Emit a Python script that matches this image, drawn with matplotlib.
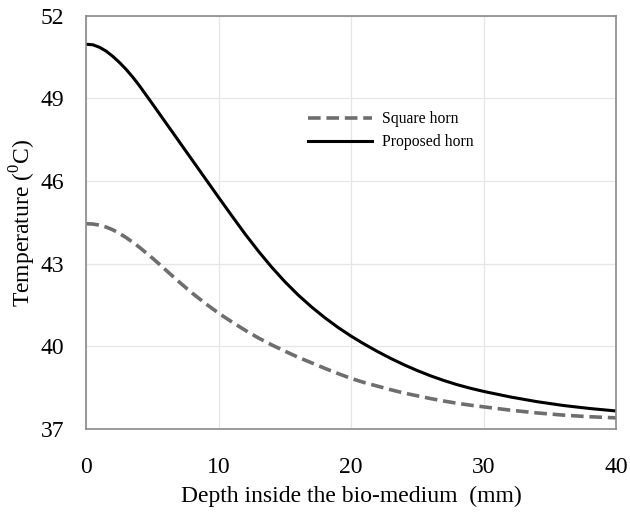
import numpy as np
import matplotlib
matplotlib.use('Agg')
import matplotlib.pyplot as plt

plt.rcParams['font.family'] = 'Liberation Serif'
plt.rcParams['mathtext.fontset'] = 'custom'
plt.rcParams['mathtext.rm'] = 'Liberation Serif'

# depth (mm) and temperatures
depth = [0, 0.5, 1, 1.5, 2, 2.5, 3, 3.5, 4, 5, 6, 7, 8, 9, 10, 11, 12, 13, 14, 15,
         16, 17, 18, 19, 20, 21, 22, 23, 24, 25, 26, 27, 28, 29, 30, 32, 34, 36, 38, 40]
square_horn = [44.45, 44.44, 44.4, 44.33, 44.23, 44.1, 43.95, 43.78, 43.6, 43.2,
               42.77, 42.34, 41.93, 41.55, 41.2, 40.88, 40.58, 40.3, 40.05, 39.82,
               39.6, 39.4, 39.2, 39.01, 38.83, 38.68, 38.55, 38.42, 38.3, 38.2,
               38.1, 38.01, 37.93, 37.86, 37.8, 37.68, 37.58, 37.5, 37.44, 37.4]
proposed_horn = [50.97, 50.95, 50.86, 50.72, 50.53, 50.31, 50.06, 49.78, 49.47, 48.8,
                 48.12, 47.44, 46.76, 46.08, 45.4, 44.73, 44.07, 43.45, 42.87, 42.34,
                 41.86, 41.43, 41.04, 40.685, 40.365, 40.075, 39.805, 39.555, 39.325, 39.115,
                 38.925, 38.755, 38.605, 38.475, 38.36, 38.16, 37.99, 37.85, 37.74, 37.65]

xticks = [0, 10, 20, 30, 40]
yticks = [37, 40, 43, 46, 49, 52]

fig = plt.figure(figsize=(6.3, 5.13), dpi=100)
ax = fig.add_axes([0.137, 0.164, 0.841, 0.805])

ax.plot(depth, square_horn, color='#6e6e6e', lw=2.6, ls=(0, (3.5, 1.6)), label='Square horn')
ax.plot(depth, proposed_horn, color='black', lw=2.2, label='Proposed horn')

ax.set_xlim(0, 40)
ax.set_ylim(37, 52)
ax.set_xticks(xticks)
ax.set_yticks(yticks)
ax.grid(True, color='#e6e6e6', lw=0.9)
ax.set_axisbelow(True)
ax.tick_params(length=0, labelsize=17)
ax.tick_params(axis='x', pad=20)
ax.tick_params(axis='y', pad=16)
for s in ax.spines.values():
    s.set_color('#8a8a8a')
    s.set_linewidth(1.2)

ax.set_xlabel('Depth inside the bio-medium  (mm)', fontsize=17, labelpad=6)
ax.set_ylabel('Temperature ($^{0}$C)', fontsize=17, labelpad=2)

ax.legend(loc='upper left', bbox_to_anchor=(0.392, 0.803), frameon=False, fontsize=11.3,
          handlelength=4.1, handletextpad=0.6, labelspacing=0.45)

plt.savefig('out.png', dpi=100)
